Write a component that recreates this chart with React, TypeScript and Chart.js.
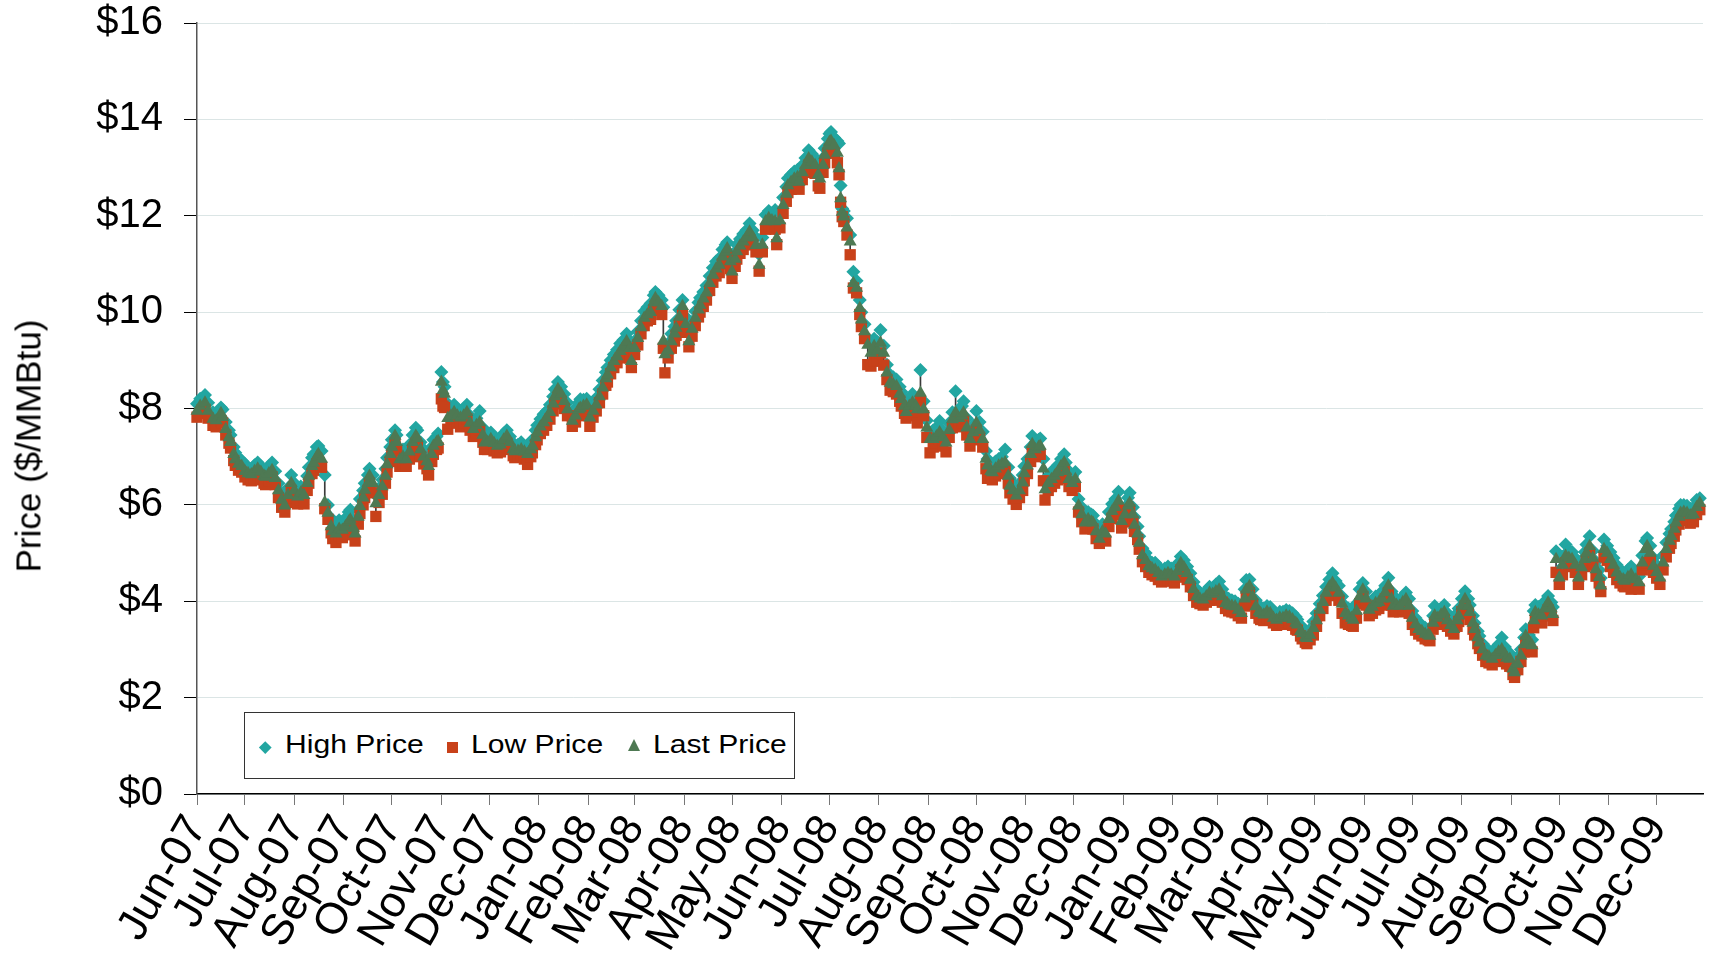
import { useEffect, useRef } from "react";
import { Chart, registerables } from "chart.js";

Chart.register(...registerables);

// x values: days since 2007-06-01
const START_UTC = Date.UTC(2007, 5, 1);

const MONTH_LABELS = [
  "Jun-07", "Jul-07", "Aug-07", "Sep-07", "Oct-07", "Nov-07", "Dec-07",
  "Jan-08", "Feb-08", "Mar-08", "Apr-08", "May-08", "Jun-08", "Jul-08",
  "Aug-08", "Sep-08", "Oct-08", "Nov-08", "Dec-08",
  "Jan-09", "Feb-09", "Mar-09", "Apr-09", "May-09", "Jun-09", "Jul-09",
  "Aug-09", "Sep-09", "Oct-09", "Nov-09", "Dec-09",
];

const Y_TICKS = [0, 2, 4, 6, 8, 10, 12, 14, 16];

const DAYS = [
  0, 2, 5, 7, 10, 12, 15, 16, 18, 20,
  21, 23, 24, 26, 28, 30, 32, 34, 36, 38,
  40, 42, 43, 45, 47, 49, 51, 53, 55, 57,
  59, 61, 63, 65, 67, 69, 70, 72, 73, 75,
  76, 78, 80, 82, 84, 85, 87, 89, 91, 93,
  95, 96, 98, 99, 101, 102, 104, 105, 107, 108,
  110, 112, 114, 116, 118, 119, 121, 122, 124, 125,
  127, 129, 131, 133, 135, 137, 138, 140, 142, 144,
  145, 147, 148, 150, 151, 153, 154, 155, 157, 159,
  161, 163, 165, 167, 169, 171, 173, 175, 177, 179,
  180, 182, 184, 186, 188, 190, 192, 194, 196, 198,
  199, 201, 203, 205, 207, 209, 210, 212, 213, 215,
  217, 219, 221, 223, 224, 226, 228, 230, 232, 235,
  237, 239, 240, 242, 244, 246, 248, 250, 252, 254,
  256, 257, 259, 261, 263, 265, 267, 269, 271, 272,
  274, 276, 278, 280, 282, 284, 286, 287, 289, 291,
  292, 293, 295, 297, 299, 300, 302, 304, 306, 308,
  310, 312, 314, 315, 317, 319, 321, 323, 325, 327,
  329, 331, 332, 334, 335, 337, 338, 340, 342, 344,
  346, 348, 350, 352, 354, 356, 358, 360, 362, 363,
  365, 367, 369, 370, 372, 374, 376, 377, 379, 381,
  383, 385, 387, 389, 390, 392, 393, 395, 396, 397,
  399, 401, 402, 403, 404, 405, 407, 409, 411, 413,
  415, 416, 418, 420, 422, 424, 426, 428, 430, 432,
  434, 436, 438, 440, 441, 443, 444, 446, 448, 450,
  451, 453, 455, 457, 459, 461, 463, 465, 467, 469,
  471, 473, 475, 477, 479, 480, 482, 484, 486, 488,
  490, 492, 494, 495, 497, 498, 500, 502, 504, 506,
  508, 509, 511, 513, 515, 517, 518, 520, 522, 523,
  525, 527, 528, 530, 531, 533, 535, 537, 539, 541,
  543, 544, 546, 548, 550, 552, 554, 556, 558, 560,
  561, 563, 565, 567, 569, 571, 573, 575, 577, 579,
  581, 583, 584, 586, 587, 589, 590, 592, 594, 596,
  598, 600, 602, 604, 606, 608, 610, 612, 614, 616,
  618, 620, 622, 624, 626, 628, 630, 632, 634, 636,
  638, 640, 642, 644, 646, 648, 650, 652, 654, 656,
  657, 659, 661, 663, 665, 666, 668, 670, 672, 674,
  676, 678, 680, 682, 684, 686, 688, 689, 691, 692,
  694, 695, 697, 699, 701, 703, 705, 707, 709, 711,
  713, 715, 717, 719, 721, 723, 724, 726, 728, 730,
  732, 734, 736, 738, 740, 742, 744, 746, 748, 749,
  751, 753, 755, 757, 759, 761, 763, 765, 767, 769,
  771, 772, 774, 775, 777, 779, 781, 783, 785, 787,
  789, 790, 792, 794, 796, 797, 799, 800, 802, 803,
  805, 807, 809, 811, 813, 815, 817, 819, 820, 822,
  824, 825, 827, 829, 831, 832, 834, 836, 837, 838,
  840, 842, 844, 846, 848, 849, 851, 853, 855, 857,
  859, 861, 863, 865, 867, 869, 870, 872, 874, 876,
  878, 879, 881, 883, 885, 887, 889, 891, 893, 894,
  896, 898, 899, 901, 903, 905, 907, 908, 910, 912,
  914, 916, 918, 920, 922, 923, 925, 926, 928, 929,
  931, 933, 935, 937, 939, 941,
];

const LAST = [
  7.95, 8.05, 8.12, 7.95, 7.78, 7.75, 7.90, 7.82, 7.57, 7.40,
  7.30, 7.05, 6.94, 6.85, 6.80, 6.70, 6.65, 6.63, 6.70, 6.75,
  6.68, 6.60, 6.58, 6.65, 6.72, 6.55, 6.30, 6.10, 5.98, 6.20,
  6.45, 6.30, 6.17, 6.25, 6.20, 6.45, 6.60, 6.80, 6.87, 7.00,
  7.05, 6.95, 6.05, 5.83, 5.55, 5.45, 5.40, 5.50, 5.48, 5.55,
  5.65, 5.69, 5.52, 5.40, 5.75, 5.97, 6.15, 6.31, 6.45, 6.60,
  6.45, 6.03, 6.20, 6.38, 6.60, 6.84, 7.05, 7.20, 7.43, 7.30,
  6.94, 7.00, 6.94, 7.10, 7.30, 7.43, 7.38, 7.15, 7.00, 6.90,
  6.80, 7.05, 7.22, 7.30, 7.32, 8.55, 8.38, 8.30, 7.80, 7.85,
  7.92, 7.85, 7.81, 7.85, 7.92, 7.70, 7.57, 7.65, 7.71, 7.45,
  7.29, 7.30, 7.36, 7.28, 7.22, 7.25, 7.35, 7.43, 7.30, 7.15,
  7.11, 7.12, 7.15, 7.10, 7.05, 7.15, 7.22, 7.40, 7.50, 7.62,
  7.71, 7.80, 7.92, 8.10, 8.25, 8.40, 8.30, 8.15, 7.98, 7.74,
  7.85, 7.98, 8.01, 8.05, 8.08, 7.81, 7.95, 8.08, 8.25, 8.43,
  8.62, 8.70, 8.85, 8.98, 9.08, 9.19, 9.28, 9.39, 9.25, 8.98,
  9.25, 9.46, 9.68, 9.88, 9.95, 10.00, 10.20, 10.29, 10.20, 10.12,
  9.40, 9.12, 9.20, 9.39, 9.55, 9.67, 9.90, 10.12, 9.75, 9.39,
  9.65, 9.88, 10.05, 10.15, 10.28, 10.40, 10.60, 10.77, 10.90, 10.98,
  11.15, 11.25, 11.32, 11.05, 10.84, 11.10, 11.26, 11.38, 11.46, 11.55,
  11.67, 11.55, 11.39, 10.98, 11.40, 11.88, 11.95, 11.90, 11.88, 11.53,
  11.90, 12.22, 12.45, 12.63, 12.70, 12.77, 12.80, 12.70, 12.90, 13.05,
  13.19, 13.12, 13.05, 12.85, 12.77, 13.05, 13.26, 13.45, 13.53, 13.55,
  13.46, 13.30, 12.98, 12.36, 12.08, 11.98, 11.75, 11.46, 10.60, 10.50,
  10.08, 9.84, 9.60, 9.32, 9.15, 9.29, 9.20, 9.36, 9.15, 8.74,
  8.53, 8.50, 8.46, 8.30, 8.19, 8.05, 7.92, 8.05, 8.12, 8.05,
  7.98, 8.32, 7.98, 7.60, 7.36, 7.36, 7.42, 7.50, 7.40, 7.29,
  7.55, 7.77, 7.91, 7.80, 7.85, 7.91, 7.60, 7.36, 7.50, 7.70,
  7.55, 7.36, 6.95, 6.81, 6.70, 6.67, 6.75, 6.81, 6.85, 6.88,
  6.60, 6.39, 6.30, 6.19, 6.30, 6.46, 6.65, 6.81, 7.05, 7.26,
  7.15, 7.20, 7.22, 6.75, 6.32, 6.45, 6.53, 6.60, 6.67, 6.80,
  6.88, 6.70, 6.53, 6.45, 6.53, 5.98, 5.80, 5.63, 5.70, 5.65,
  5.63, 5.45, 5.29, 5.45, 5.40, 5.70, 5.87, 5.95, 6.08, 5.66,
  5.80, 5.98, 6.04, 5.80, 5.58, 5.40, 5.21, 4.95, 4.85, 4.72,
  4.68, 4.65, 4.58, 4.51, 4.55, 4.58, 4.55, 4.51, 4.62, 4.79,
  4.70, 4.58, 4.44, 4.25, 4.10, 4.05, 4.03, 4.10, 4.17, 4.15,
  4.20, 4.24, 4.10, 3.96, 3.92, 3.90, 3.89, 3.82, 3.75, 4.05,
  4.24, 4.31, 4.10, 3.89, 3.78, 3.75, 3.72, 3.78, 3.75, 3.65,
  3.61, 3.66, 3.65, 3.70, 3.68, 3.62, 3.55, 3.51, 3.38, 3.33,
  3.25, 3.23, 3.30, 3.44, 3.60, 3.82, 3.98, 4.17, 4.30, 4.38,
  4.28, 4.17, 3.95, 3.75, 3.70, 3.65, 3.61, 3.80, 4.10, 4.24,
  4.05, 3.82, 3.88, 3.96, 3.98, 4.05, 4.18, 4.32, 4.05, 3.90,
  3.92, 3.90, 3.98, 4.04, 3.90, 3.65, 3.52, 3.42, 3.38, 3.32,
  3.30, 3.28, 3.55, 3.70, 3.65, 3.72, 3.77, 3.60, 3.50, 3.42,
  3.60, 3.70, 3.90, 4.04, 3.90, 3.77, 3.55, 3.42, 3.25, 3.14,
  3.00, 2.87, 2.85, 2.80, 2.88, 2.95, 3.00, 2.90, 2.82, 2.80,
  2.60, 2.52, 2.70, 2.87, 3.10, 3.28, 3.15, 3.08, 3.60, 3.77,
  3.72, 3.70, 3.85, 3.97, 3.85, 3.73, 4.87, 4.49, 4.75, 4.94,
  4.90, 4.87, 4.75, 4.49, 4.70, 4.87, 5.00, 5.14, 4.90, 4.66,
  4.50, 4.32, 5.08, 5.00, 4.87, 4.75, 4.59, 4.50, 4.45, 4.42,
  4.50, 4.55, 4.46, 4.45, 4.39, 4.80, 5.08, 5.14, 5.00, 4.73,
  4.60, 4.49, 4.80, 5.08, 5.25, 5.35, 5.50, 5.63, 5.75, 5.83,
  5.85, 5.83, 5.78, 5.80, 5.95, 6.04,
];

const HIGH = [
  8.10, 8.20, 8.28, 8.12, 7.92, 7.88, 8.02, 7.98, 7.72, 7.55,
  7.45, 7.20, 7.08, 6.98, 6.92, 6.85, 6.78, 6.75, 6.82, 6.88,
  6.80, 6.72, 6.70, 6.80, 6.88, 6.70, 6.45, 6.25, 6.10, 6.35,
  6.62, 6.45, 6.30, 6.38, 6.32, 6.60, 6.78, 6.98, 7.05, 7.20,
  7.22, 7.12, 6.62, 6.00, 5.72, 5.62, 5.55, 5.68, 5.65, 5.72,
  5.85, 5.90, 5.68, 5.55, 5.90, 6.12, 6.30, 6.45, 6.62, 6.75,
  6.62, 6.20, 6.35, 6.52, 6.75, 6.98, 7.20, 7.35, 7.55, 7.45,
  7.10, 7.15, 7.10, 7.25, 7.45, 7.60, 7.55, 7.30, 7.15, 7.05,
  6.95, 7.20, 7.35, 7.42, 7.48, 8.76, 8.55, 8.45, 8.10, 8.00,
  8.08, 8.00, 7.95, 8.00, 8.08, 7.85, 7.72, 7.80, 7.95, 7.60,
  7.45, 7.45, 7.50, 7.40, 7.35, 7.38, 7.48, 7.55, 7.42, 7.28,
  7.25, 7.25, 7.30, 7.22, 7.18, 7.30, 7.35, 7.55, 7.65, 7.78,
  7.88, 7.95, 8.08, 8.25, 8.40, 8.55, 8.45, 8.30, 8.12, 7.88,
  8.00, 8.12, 8.19, 8.18, 8.20, 7.98, 8.08, 8.22, 8.40, 8.58,
  8.75, 8.85, 9.00, 9.12, 9.22, 9.35, 9.42, 9.55, 9.40, 9.15,
  9.40, 9.60, 9.82, 10.02, 10.10, 10.18, 10.35, 10.42, 10.35, 10.25,
  10.10, 9.30, 9.35, 9.55, 9.70, 9.82, 10.05, 10.25, 9.90, 9.55,
  9.80, 10.02, 10.20, 10.30, 10.42, 10.55, 10.75, 10.92, 11.05, 11.12,
  11.30, 11.40, 11.45, 11.20, 11.00, 11.25, 11.40, 11.52, 11.62, 11.70,
  11.84, 11.70, 11.55, 11.20, 11.55, 12.02, 12.10, 12.05, 12.12, 11.70,
  12.05, 12.38, 12.60, 12.78, 12.85, 12.92, 12.95, 12.85, 13.05, 13.20,
  13.36, 13.28, 13.20, 13.00, 12.92, 13.20, 13.40, 13.60, 13.70, 13.74,
  13.62, 13.55, 13.50, 12.63, 12.15, 12.10, 11.95, 11.60, 10.84, 10.65,
  10.25, 10.00, 9.75, 9.45, 9.35, 9.45, 9.38, 9.63, 9.30, 8.91,
  8.70, 8.65, 8.60, 8.45, 8.35, 8.20, 8.08, 8.20, 8.30, 8.20,
  8.12, 8.80, 8.15, 7.75, 7.50, 7.55, 7.60, 7.74, 7.55, 7.45,
  7.70, 7.92, 8.36, 7.98, 8.05, 8.15, 7.80, 7.52, 7.65, 7.95,
  7.72, 7.52, 7.12, 6.95, 6.85, 6.80, 6.90, 6.95, 7.00, 7.15,
  6.78, 6.55, 6.45, 6.35, 6.45, 6.62, 6.80, 6.95, 7.20, 7.43,
  7.30, 7.35, 7.38, 6.95, 6.50, 6.60, 6.68, 6.75, 6.82, 6.95,
  7.05, 6.88, 6.70, 6.60, 6.68, 6.12, 5.95, 5.78, 5.85, 5.80,
  5.78, 5.60, 5.45, 5.60, 5.55, 5.85, 6.02, 6.12, 6.27, 5.82,
  5.95, 6.15, 6.25, 5.95, 5.75, 5.55, 5.35, 5.10, 5.00, 4.85,
  4.80, 4.80, 4.72, 4.65, 4.68, 4.72, 4.68, 4.65, 4.78, 4.93,
  4.85, 4.72, 4.58, 4.40, 4.25, 4.18, 4.15, 4.22, 4.30, 4.28,
  4.35, 4.41, 4.25, 4.10, 4.05, 4.02, 4.00, 3.95, 3.88, 4.25,
  4.44, 4.45, 4.25, 4.02, 3.90, 3.88, 3.85, 3.90, 3.88, 3.78,
  3.74, 3.78, 3.78, 3.82, 3.80, 3.75, 3.68, 3.62, 3.50, 3.45,
  3.38, 3.35, 3.42, 3.58, 3.75, 3.95, 4.12, 4.30, 4.45, 4.58,
  4.42, 4.32, 4.10, 3.90, 3.85, 3.80, 3.75, 3.95, 4.25, 4.38,
  4.20, 3.98, 4.02, 4.10, 4.12, 4.20, 4.32, 4.49, 4.20, 4.05,
  4.05, 4.02, 4.10, 4.18, 4.05, 3.80, 3.65, 3.55, 3.50, 3.45,
  3.42, 3.40, 3.70, 3.90, 3.80, 3.85, 3.92, 3.75, 3.62, 3.55,
  3.75, 3.85, 4.05, 4.21, 4.05, 3.92, 3.70, 3.55, 3.38, 3.28,
  3.12, 3.00, 2.98, 2.95, 3.02, 3.10, 3.25, 3.05, 2.95, 2.92,
  2.75, 2.65, 2.85, 3.00, 3.25, 3.42, 3.30, 3.20, 3.80, 3.92,
  3.88, 3.85, 4.00, 4.11, 3.98, 3.88, 5.04, 4.65, 4.92, 5.18,
  5.05, 5.02, 4.90, 4.65, 4.85, 5.02, 5.18, 5.35, 5.05, 4.82,
  4.65, 4.48, 5.28, 5.15, 5.02, 4.90, 4.75, 4.65, 4.60, 4.55,
  4.65, 4.72, 4.62, 4.58, 4.52, 4.95, 5.25, 5.31, 5.15, 4.90,
  4.75, 4.65, 4.95, 5.22, 5.40, 5.50, 5.65, 5.78, 5.92, 6.00,
  6.00, 5.98, 5.92, 5.95, 6.10, 6.14,
];

const LOW = [
  7.82, 7.90, 7.98, 7.80, 7.65, 7.62, 7.75, 7.70, 7.45, 7.28,
  7.18, 6.92, 6.82, 6.72, 6.68, 6.58, 6.52, 6.50, 6.55, 6.60,
  6.52, 6.45, 6.42, 6.50, 6.58, 6.42, 6.15, 5.95, 5.85, 6.05,
  6.30, 6.15, 6.02, 6.10, 6.02, 6.30, 6.45, 6.65, 6.72, 6.85,
  6.88, 6.78, 5.92, 5.70, 5.42, 5.30, 5.22, 5.35, 5.32, 5.40,
  5.50, 5.55, 5.38, 5.25, 5.60, 5.82, 6.00, 6.15, 6.30, 6.45,
  6.25, 5.76, 6.05, 6.22, 6.45, 6.68, 6.90, 7.05, 7.28, 7.12,
  6.80, 6.85, 6.80, 6.95, 7.15, 7.28, 7.22, 7.00, 6.85, 6.75,
  6.62, 6.90, 7.05, 7.15, 7.18, 8.20, 8.05, 8.02, 7.57, 7.70,
  7.78, 7.70, 7.62, 7.70, 7.78, 7.55, 7.42, 7.50, 7.55, 7.30,
  7.15, 7.15, 7.22, 7.12, 7.08, 7.10, 7.20, 7.28, 7.15, 7.02,
  6.98, 7.00, 7.02, 6.95, 6.84, 7.00, 7.08, 7.25, 7.35, 7.48,
  7.55, 7.65, 7.78, 7.95, 8.10, 8.22, 8.15, 8.00, 7.85, 7.63,
  7.72, 7.85, 7.88, 7.92, 7.95, 7.63, 7.82, 7.95, 8.12, 8.30,
  8.48, 8.55, 8.72, 8.85, 8.95, 9.05, 9.15, 9.25, 9.05, 8.85,
  9.12, 9.32, 9.55, 9.72, 9.82, 9.85, 10.05, 10.12, 10.05, 9.95,
  9.25, 8.74, 9.05, 9.25, 9.40, 9.52, 9.75, 9.95, 9.58, 9.28,
  9.50, 9.72, 9.90, 10.00, 10.12, 10.25, 10.45, 10.62, 10.75, 10.82,
  11.00, 11.10, 11.15, 10.90, 10.70, 10.95, 11.10, 11.22, 11.30, 11.40,
  11.50, 11.40, 11.25, 10.85, 11.25, 11.72, 11.80, 11.75, 11.72, 11.40,
  11.75, 12.05, 12.30, 12.48, 12.55, 12.60, 12.62, 12.55, 12.75, 12.90,
  13.05, 12.95, 12.88, 12.62, 12.57, 12.90, 13.10, 13.30, 13.38, 13.40,
  13.30, 13.10, 12.85, 12.28, 11.98, 11.88, 11.60, 11.19, 10.50, 10.40,
  9.95, 9.70, 9.45, 8.91, 8.88, 8.98, 9.00, 9.15, 8.90, 8.60,
  8.38, 8.35, 8.30, 8.15, 8.05, 7.90, 7.80, 7.90, 7.98, 7.85,
  7.70, 8.15, 7.85, 7.40, 7.08, 7.20, 7.28, 7.35, 7.22, 7.10,
  7.40, 7.60, 7.75, 7.62, 7.70, 7.75, 7.45, 7.22, 7.35, 7.55,
  7.40, 7.20, 6.75, 6.55, 6.55, 6.52, 6.60, 6.65, 6.70, 6.72,
  6.45, 6.25, 6.12, 6.01, 6.15, 6.30, 6.50, 6.65, 6.90, 7.10,
  7.00, 7.05, 7.05, 6.50, 6.10, 6.30, 6.38, 6.45, 6.52, 6.65,
  6.72, 6.55, 6.38, 6.30, 6.38, 5.85, 5.65, 5.50, 5.55, 5.52,
  5.50, 5.30, 5.20, 5.30, 5.25, 5.55, 5.72, 5.80, 5.92, 5.52,
  5.65, 5.82, 5.90, 5.65, 5.45, 5.28, 5.08, 4.82, 4.72, 4.60,
  4.55, 4.52, 4.45, 4.40, 4.42, 4.45, 4.42, 4.38, 4.50, 4.65,
  4.55, 4.45, 4.30, 4.12, 3.98, 3.95, 3.92, 3.98, 4.02, 4.02,
  4.08, 4.10, 3.98, 3.85, 3.80, 3.78, 3.76, 3.70, 3.65, 3.90,
  4.10, 4.18, 3.95, 3.75, 3.65, 3.62, 3.60, 3.65, 3.62, 3.55,
  3.50, 3.55, 3.52, 3.58, 3.55, 3.50, 3.42, 3.40, 3.28, 3.22,
  3.15, 3.12, 3.20, 3.30, 3.48, 3.70, 3.85, 4.02, 4.15, 4.22,
  4.12, 4.02, 3.75, 3.55, 3.52, 3.50, 3.48, 3.65, 3.95, 4.10,
  3.92, 3.70, 3.75, 3.82, 3.85, 3.92, 4.05, 4.18, 3.92, 3.78,
  3.80, 3.78, 3.85, 3.90, 3.75, 3.52, 3.40, 3.32, 3.28, 3.22,
  3.20, 3.18, 3.42, 3.55, 3.52, 3.60, 3.62, 3.48, 3.38, 3.32,
  3.48, 3.58, 3.78, 3.90, 3.75, 3.62, 3.42, 3.30, 3.12, 3.02,
  2.88, 2.75, 2.72, 2.68, 2.75, 2.82, 2.85, 2.78, 2.70, 2.65,
  2.48, 2.42, 2.58, 2.75, 2.95, 3.15, 3.02, 2.95, 3.45, 3.62,
  3.58, 3.55, 3.70, 3.82, 3.70, 3.60, 4.60, 4.35, 4.55, 4.80,
  4.75, 4.72, 4.60, 4.35, 4.55, 4.72, 4.85, 5.00, 4.75, 4.52,
  4.38, 4.20, 4.92, 4.85, 4.72, 4.60, 4.45, 4.38, 4.32, 4.30,
  4.38, 4.25, 4.30, 4.32, 4.25, 4.65, 4.75, 4.80, 4.85, 4.60,
  4.48, 4.35, 4.65, 4.92, 5.10, 5.20, 5.35, 5.48, 5.60, 5.68,
  5.70, 5.68, 5.62, 5.65, 5.80, 5.90,
];

const X_MAX_DAY = 943;

const HIGH_COLOR = "#22a6a1";
const LOW_COLOR = "#c8411a";
const LAST_COLOR = "#4e7953";
const FONT = 'Arial, "Liberation Sans", sans-serif';

const MONTH_TICK_DAYS = MONTH_LABELS.map((_, i) =>
  Math.round((Date.UTC(2007, 5 + i, 1) - START_UTC) / 86400000)
);

export default function App() {
  const canvasRef = useRef<HTMLCanvasElement | null>(null);

  useEffect(() => {
    if (!canvasRef.current) return;
    const pts = (arr: number[]) => DAYS.map((d, i) => ({ x: d, y: arr[i] }));
    const chart = new Chart(canvasRef.current, {
      type: "scatter",
      data: {
        datasets: [
          {
            label: "High Price",
            data: pts(HIGH),
            pointStyle: "rectRot",
            pointRadius: 7,
            pointBackgroundColor: HIGH_COLOR,
            backgroundColor: HIGH_COLOR,
            pointBorderWidth: 0,
            borderWidth: 0,
            order: 3,
            clip: false,
          },
          {
            label: "Low Price",
            data: pts(LOW),
            pointStyle: "rect",
            pointRadius: 8,
            pointBackgroundColor: LOW_COLOR,
            backgroundColor: LOW_COLOR,
            pointBorderWidth: 0,
            borderWidth: 0,
            order: 2,
            clip: false,
          },
          {
            label: "Last Price",
            data: pts(LAST),
            pointStyle: "triangle",
            pointRadius: 7.5,
            pointBackgroundColor: LAST_COLOR,
            backgroundColor: LAST_COLOR,
            pointBorderWidth: 0,
            borderWidth: 0,
            order: 1,
            clip: false,
          },
          {
            type: "bar",
            label: "range",
            data: DAYS.map((d, i) => ({ x: d, y: [LOW[i], HIGH[i]] })),
            backgroundColor: "#3a3a3a",
            borderWidth: 0,
            barThickness: 1,
            grouped: false,
            order: 4,
          } as any,
        ],
      },
      options: {
        animation: false,
        responsive: true,
        maintainAspectRatio: false,
        layout: { padding: { left: 0, right: 0, top: 23, bottom: 0 } },
        plugins: {
          legend: { display: false },
          tooltip: { enabled: false },
          title: { display: false },
        },
        scales: {
          x: {
            type: "linear",
            min: 0,
            max: X_MAX_DAY,
            offset: false,
            afterBuildTicks: (scale: any) => {
              scale.ticks = MONTH_TICK_DAYS.map((v) => ({ value: v }));
            },
            afterFit: (scale: any) => {
              scale.height = 159;
            },
            ticks: {
              autoSkip: false,
              maxRotation: 60,
              minRotation: 60,
              padding: 2,
              color: "#000",
              font: { family: FONT, size: 44 },
              callback: (_v: any, index: number) => MONTH_LABELS[index],
            },
            grid: {
              display: true,
              drawOnChartArea: false,
              offset: false,
              tickLength: 11,
              color: "#777",
              lineWidth: 1,
            },
            border: { display: true, color: "#000", width: 1.5 },
          },
          y: {
            type: "linear",
            min: 0,
            max: 16,
            afterBuildTicks: (scale: any) => {
              scale.ticks = Y_TICKS.map((v) => ({ value: v }));
            },
            afterFit: (scale: any) => {
              scale.width = 197;
              scale.paddingTop = 0;
              scale.paddingBottom = 0;
            },
            ticks: {
              padding: 21,
              color: "#000",
              font: { family: FONT, size: 40 },
              callback: (v: any) => "$" + v,
            },
            grid: {
              color: "#dbe5e5",
              tickColor: "#000",
              tickLength: 13,
              lineWidth: 1,
            },
            border: { display: true, color: "#555", width: 1.5 },
          },
        },
      },
    });
    return () => chart.destroy();
  }, []);

  const legendText: any = {
    position: "absolute",
    top: 731.5,
    fontFamily: FONT,
    fontSize: 25.5,
    lineHeight: "25.5px",
    color: "#000",
    whiteSpace: "nowrap",
    transform: "scaleX(1.18)",
    transformOrigin: "left center",
  };

  return (
    <div
      style={{
        position: "absolute",
        left: 0,
        top: 0,
        width: 1711,
        height: 953,
        overflow: "hidden",
        background: "#fff",
      }}
    >
      <div style={{ position: "absolute", left: 0, top: 0, width: 1711, height: 953 }}>
        <canvas ref={canvasRef} />
      </div>
      <div
        style={{
          position: "absolute",
          left: 28,
          top: 446,
          transform: "translate(-50%, -50%) rotate(-90deg)",
          fontFamily: FONT,
          fontSize: 35,
          lineHeight: "35px",
          whiteSpace: "nowrap",
          color: "#000",
        }}
      >
        Price ($/MMBtu)
      </div>
      <div
        style={{
          position: "absolute",
          left: 244,
          top: 712,
          width: 551,
          height: 67,
          boxSizing: "border-box",
          border: "1.5px solid #333",
          background: "#fff",
        }}
      />
      <div
        style={{
          position: "absolute",
          left: 261.4,
          top: 742.5,
          width: 8.5,
          height: 8.5,
          background: HIGH_COLOR,
          transform: "rotate(45deg)",
        }}
      />
      <div style={{ ...legendText, left: 284.7 }}>High Price</div>
      <div
        style={{
          position: "absolute",
          left: 446.5,
          top: 741.5,
          width: 11,
          height: 11,
          background: LOW_COLOR,
        }}
      />
      <div style={{ ...legendText, left: 471 }}>Low Price</div>
      <div
        style={{
          position: "absolute",
          left: 627.8,
          top: 739,
          width: 0,
          height: 0,
          borderLeft: "6.7px solid transparent",
          borderRight: "6.7px solid transparent",
          borderBottom: "12px solid " + LAST_COLOR,
        }}
      />
      <div style={{ ...legendText, left: 652.9 }}>Last Price</div>
    </div>
  );
}
